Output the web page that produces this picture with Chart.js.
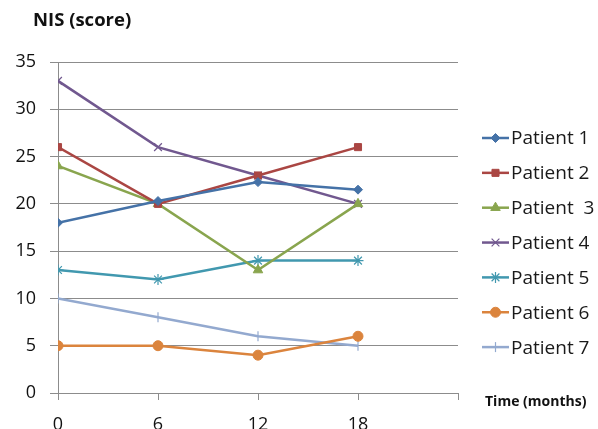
<!DOCTYPE html>
<html>
<head>
<meta charset="utf-8">
<script src="https://cdn.jsdelivr.net/npm/chart.js@4/dist/chart.umd.min.js"></script>
<style>
  html, body { margin: 0; padding: 0; background: #fff; }
  #wrap { width: 598px; height: 429px; position: relative; }
</style>
</head>
<body>
<div id="wrap"><canvas id="c" width="598" height="429"></canvas></div>
<script>
// Follow-up time points (months) and NIS scores per patient
const months = [0, 6, 12, 18];
const patientNames = ['Patient 1', 'Patient 2', 'Patient  3', 'Patient 4', 'Patient 5', 'Patient 6', 'Patient 7'];
const patient1 = [18, 20.3, 22.3, 21.5];
const patient2 = [26, 20, 23, 26];
const patient3 = [24, 20, 13, 20];
const patient4 = [33, 26, 23, 20];
const patient5 = [13, 12, 14, 14];
const patient6 = [5, 5, 4, 6];
const patient7 = [10, 8, 6, 5];
const yTicks = [0, 5, 10, 15, 20, 25, 30, 35];

const FONT = '"Open Sans", "Liberation Sans", sans-serif';
const series = [patient1, patient2, patient3, patient4, patient5, patient6, patient7];
const colors = ['#4572A7', '#AA4643', '#89A54E', '#71588F', '#4198AF', '#DB843D', '#93A9CF'];
const styles = [
  { pointStyle: 'rectRot', radius: 4.5, rotation: 0, fill: true },
  { pointStyle: 'rect', radius: 5, rotation: 0, fill: true },
  { pointStyle: 'triangle', radius: 5.5, rotation: 0, fill: true },
  { pointStyle: 'crossRot', radius: 5.5, rotation: 0, fill: false },
  { pointStyle: 'star', radius: 5.5, rotation: 0, fill: false },
  { pointStyle: 'circle', radius: 5, rotation: 0, fill: true },
  { pointStyle: 'line', radius: 5, rotation: 90, fill: false }
];

const datasets = series.map((vals, i) => ({
  label: patientNames[i],
  data: vals.map((v, k) => ({ x: months[k], y: v })),
  borderColor: colors[i],
  backgroundColor: colors[i],
  borderWidth: 2.5,
  pointStyle: styles[i].pointStyle,
  pointRadius: styles[i].radius,
  pointRotation: styles[i].rotation,
  pointBorderWidth: styles[i].fill ? 1 : 1.2,
  pointBorderColor: colors[i],
  pointBackgroundColor: colors[i],
  tension: 0
}));

// Excel-style legend (line with marker) plus axis captions
const extras = {
  id: 'extras',
  afterDraw(chart) {
    const ctx = chart.ctx;
    ctx.save();
    ctx.fillStyle = '#111';
    ctx.textBaseline = 'middle';
    ctx.textAlign = 'left';
    ctx.font = 'bold 18.5px ' + FONT;
    ctx.fillText('NIS (score)', 33, 21);
    ctx.font = 'bold 14px ' + FONT;
    ctx.fillText('Time (months)', 485, 402);

    chart.data.datasets.forEach((ds, i) => {
      const y = 138 + i * 34.85;
      ctx.strokeStyle = ds.borderColor;
      ctx.lineWidth = 2.5;
      ctx.beginPath();
      ctx.moveTo(482, y);
      ctx.lineTo(509, y);
      ctx.stroke();
      ctx.fillStyle = ds.pointBackgroundColor;
      ctx.lineWidth = ds.pointBorderWidth;
      Chart.helpers.drawPoint(ctx, {
        pointStyle: ds.pointStyle,
        radius: ds.pointRadius,
        rotation: ds.pointRotation,
        borderWidth: ds.pointBorderWidth
      }, 495.5, y);
      ctx.fillStyle = '#1a1a1a';
      ctx.font = '19px ' + FONT;
      ctx.fillText(ds.label, 511, y + 1);
    });
    ctx.restore();
  }
};

new Chart(document.getElementById('c'), {
  type: 'line',
  data: { datasets },
  options: {
    responsive: false,
    animation: false,
    layout: { padding: { top: 62, right: 140, left: 0, bottom: 0 } },
    plugins: { legend: { display: false }, tooltip: { enabled: false } },
    scales: {
      x: {
        type: 'linear',
        min: 0,
        max: 24,
        afterFit(s) { s.height = 36; },
        afterBuildTicks(s) { s.ticks = [0, 6, 12, 18, 24].map(v => ({ value: v })); },
        ticks: {
          callback: v => (months.includes(v) ? String(v) : ''),
          font: { size: 18, family: FONT },
          color: '#111',
          padding: 14,
          maxRotation: 0
        },
        grid: { drawOnChartArea: false, tickLength: 7, color: '#8c8c8c', lineWidth: 1 },
        border: { color: '#8c8c8c', width: 1 }
      },
      y: {
        min: 0,
        max: 35,
        afterFit(s) { s.width = 58; },
        afterBuildTicks(s) { s.ticks = yTicks.map(v => ({ value: v })); },
        ticks: {
          font: { size: 18, family: FONT },
          color: '#111',
          padding: 14
        },
        grid: { color: '#8c8c8c', lineWidth: 1, tickLength: 8 },
        border: { color: '#8c8c8c', width: 1 }
      }
    }
  },
  plugins: [extras]
});
</script>
</body>
</html>
